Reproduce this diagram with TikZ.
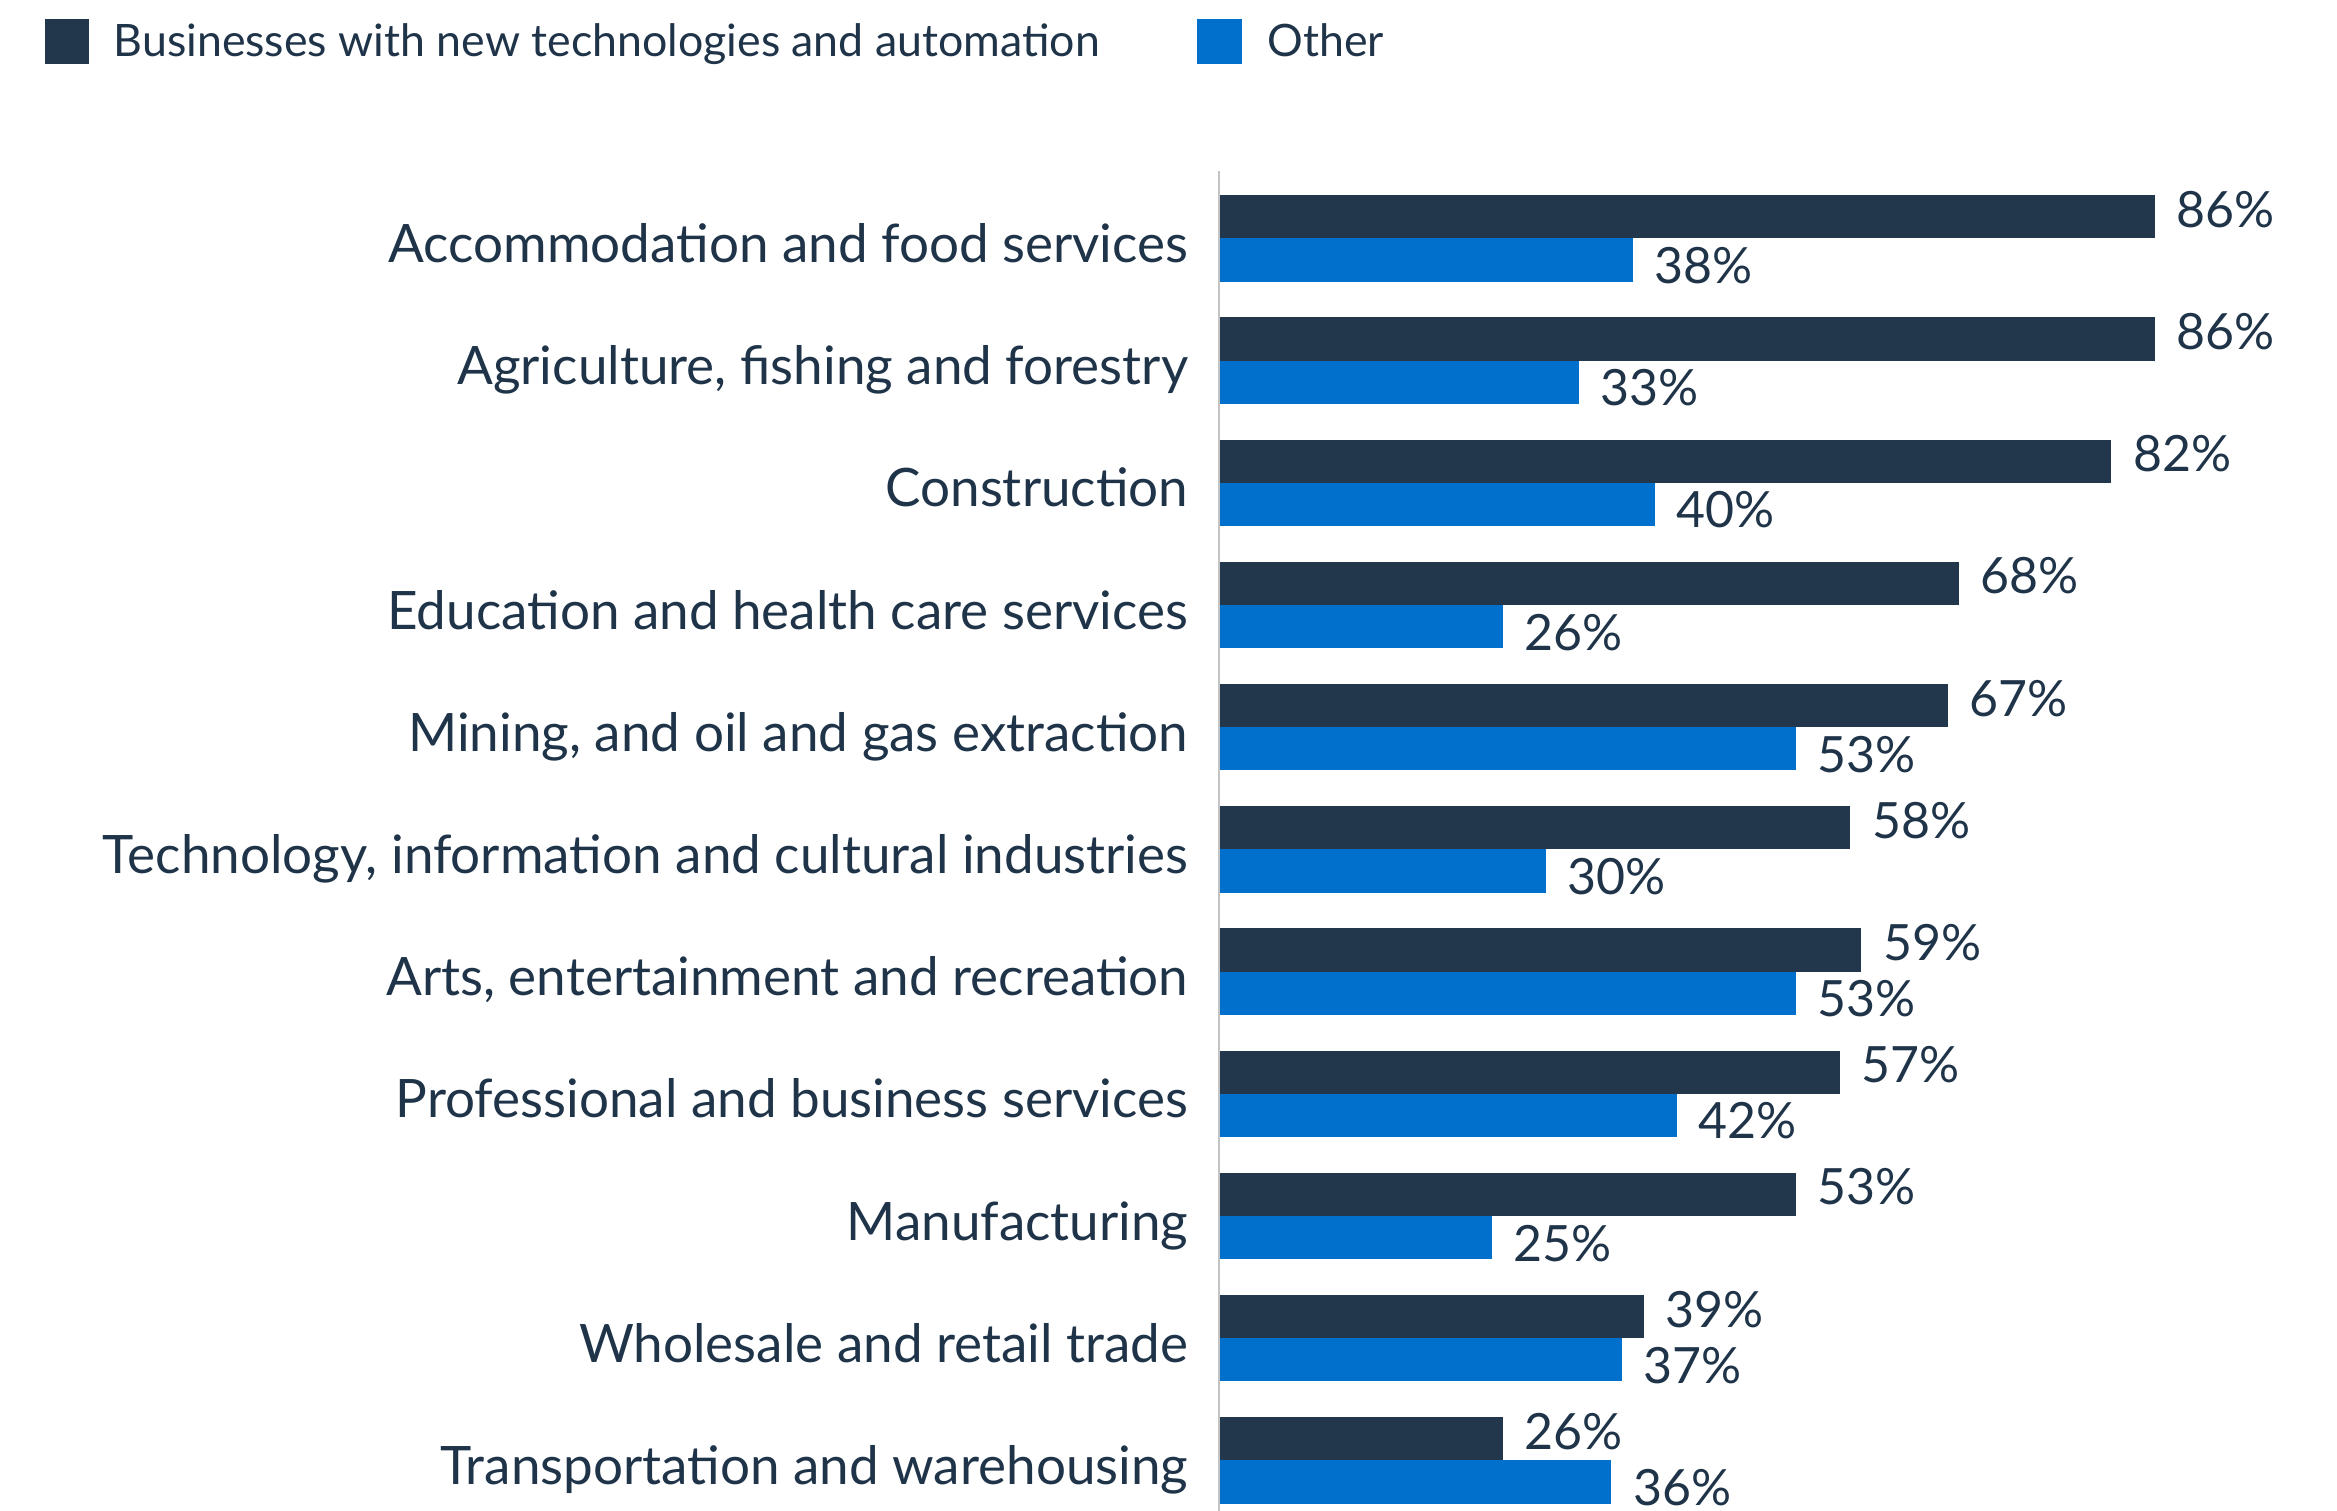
\documentclass[tikz,border=0pt]{standalone}
\usepackage{fontspec}
\setmainfont{Lato}
\definecolor{darkbar}{HTML}{22374B}
\definecolor{bluebar}{HTML}{0070CC}
\definecolor{txt}{HTML}{1F3449}
\definecolor{axisgray}{HTML}{C4C4C4}
\begin{document}
\begin{tikzpicture}[x=0.3pt,y=-0.3pt,
  catlabel/.style={anchor=base east,inner sep=0pt,text=txt,font=\fontsize{15.9}{19}\selectfont},
  vallabel/.style={anchor=base west,inner sep=0pt,text=txt,font=\fontsize{15}{18}\selectfont},
  legtext/.style={anchor=base west,inner sep=0pt,text=txt,font=\fontsize{13.4}{16}\selectfont}]
\useasboundingbox (0,0) rectangle (2337,1511);
% legend
\fill[darkbar] (45,19) rectangle (89,64);
\node[legtext] (leg1) at (113,57) {Businesses with new technologies and automation};
\fill[bluebar] (1197,19) rectangle (1242,64);
\node[legtext] (leg2) at (1267,57) {Other};
% bars
\foreach \cat/\d/\b [count=\i from 0] in {
  Accommodation and food services/86/38,
  {Agriculture, fishing and forestry}/86/33,
  Construction/82/40,
  Education and health care services/68/26,
  {Mining, and oil and gas extraction}/67/53,
  {Technology, information and cultural industries}/58/30,
  {Arts, entertainment and recreation}/59/53,
  Professional and business services/57/42,
  Manufacturing/53/25,
  Wholesale and retail trade/39/37,
  Transportation and warehousing/26/36}{
  \pgfmathsetmacro{\yt}{195.2+122.2*\i}
  \pgfmathsetmacro{\ym}{\yt+43.2}
  \pgfmathsetmacro{\yb}{\yt+86.4}
  \pgfmathsetmacro{\xd}{1220+10.87*\d}
  \pgfmathsetmacro{\xb}{1220+10.87*\b}
  \fill[darkbar] (1220,\yt) rectangle (\xd,\ym);
  \fill[bluebar] (1220,\ym) rectangle (\xb,\yb);
  \node[catlabel] (cat\i) at (1189,\ym+24) {\cat};
  \node[vallabel] (dv\i) at (\xd+21,\yt+32) {\d\%};
  \node[vallabel] (bv\i) at (\xb+21,\ym+45) {\b\%};
}
\draw[axisgray,line width=0.6pt] (1219,171) -- (1219,1511);
\end{tikzpicture}
\end{document}
